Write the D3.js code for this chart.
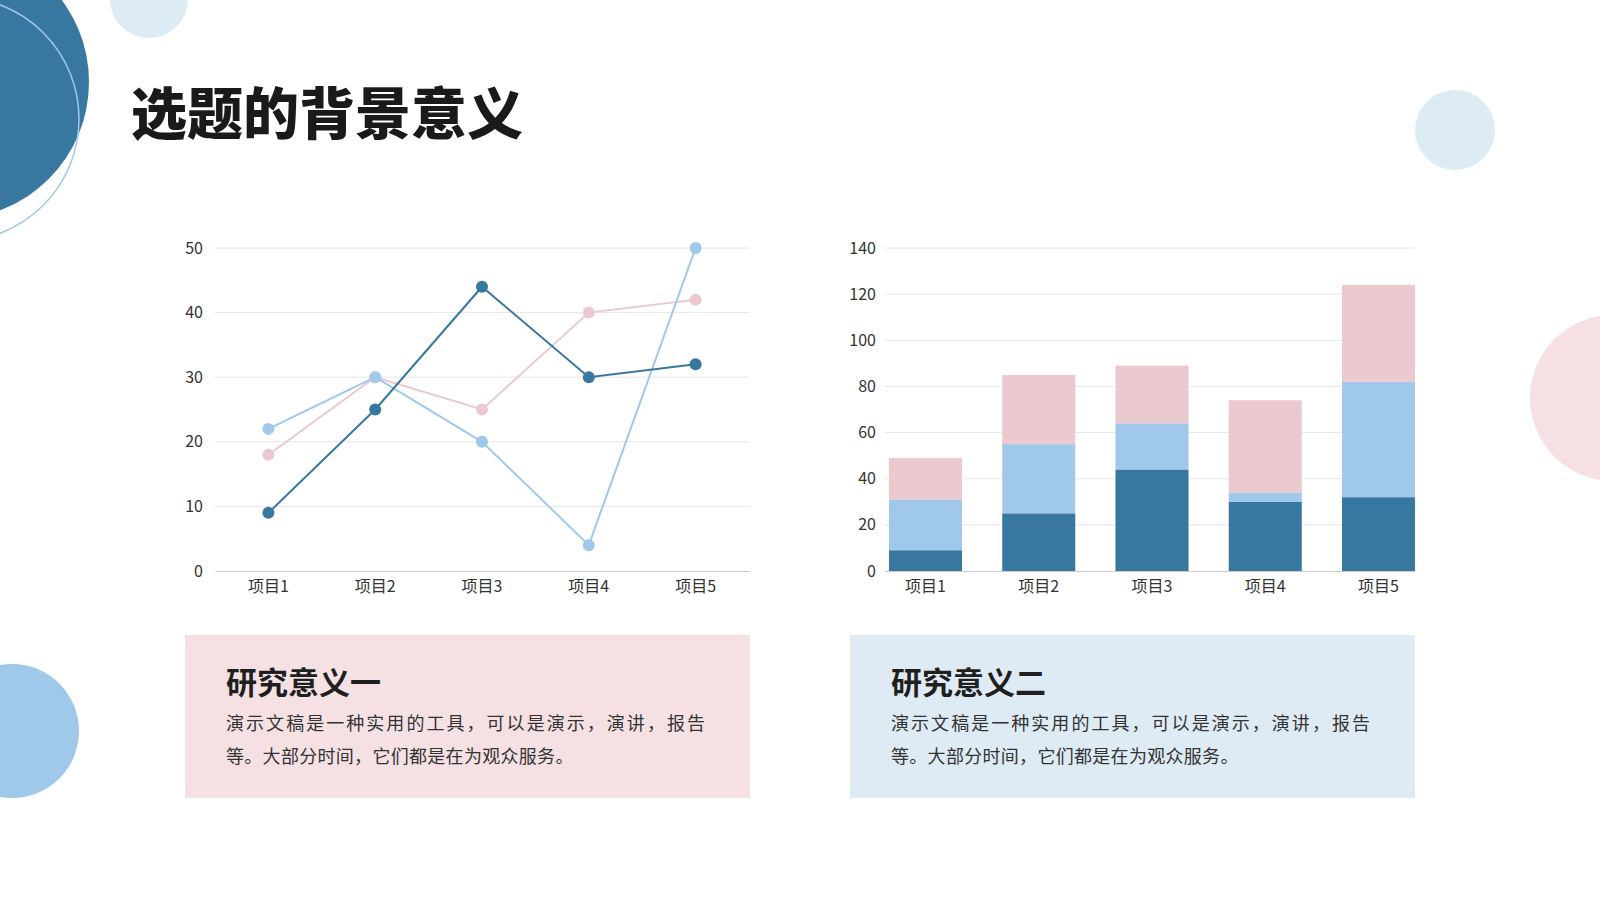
<!DOCTYPE html>
<html><head><meta charset="utf-8">
<script src="https://cdn.jsdelivr.net/npm/d3@7"></script>
<style>
html,body{margin:0;padding:0;background:#fff;}
svg{display:block;}
text{font-family:"Noto Sans CJK SC","Noto Sans",sans-serif;}
</style></head>
<body>
<svg id="c" width="1600" height="900"></svg>
<script>
const categories = ["项目1","项目2","项目3","项目4","项目5"];
const seriesA = [9, 25, 44, 30, 32];   // dark blue
const seriesB = [22, 30, 20, 4, 50];   // light blue
const seriesC = [18, 30, 25, 40, 42];  // pink
const lineTicks = [0,10,20,30,40,50];
const barTicks = [0,20,40,60,80,100,120,140];
const title = "选题的背景意义";
const cardTitles = ["研究意义一","研究意义二"];
const cardLines = ["演示文稿是一种实用的工具，可以是演示，演讲，报告","等。大部分时间，它们都是在为观众服务。"];

const colors = {A:"#3878A0", B:"#A0C8EA", C:"#EACACE"};
const svg = d3.select("#c");

// decorative circles
const deco = svg.append("g");
deco.append("circle").attr("cx",-48).attr("cy",82).attr("r",137).attr("fill","#3878A0");
deco.append("circle").attr("cx",-43).attr("cy",119).attr("r",122).attr("fill","none").attr("stroke","#A0C8EA").attr("stroke-width",1.5);
deco.append("circle").attr("cx",149).attr("cy",-1).attr("r",39).attr("fill","#DDEBF5");
deco.append("circle").attr("cx",1455).attr("cy",130).attr("r",40).attr("fill","#DDEBF5");
deco.append("circle").attr("cx",1613).attr("cy",398).attr("r",83).attr("fill","#F5E1E4");
deco.append("circle").attr("cx",12).attr("cy",731).attr("r",67).attr("fill","#A0C8EA");

// title
svg.append("text").attr("x",131).attr("y",134).attr("font-size",56).attr("font-weight",900)
  .attr("fill","#1a1a1a").text(title);

const styleTicks = g=>g.selectAll("text").attr("font-size",16).attr("fill","#333").attr("font-family","'Noto Sans CJK SC',sans-serif");

// ---------- line chart ----------
const lx = d3.scaleBand().domain(categories).range([215,749]);
const ly = d3.scaleLinear().domain([0,50]).range([571,248]);
const lg = svg.append("g");
lg.append("g").selectAll("line").data(lineTicks.filter(t=>t>0)).join("line")
  .attr("x1",215).attr("x2",749).attr("y1",d=>ly(d)).attr("y2",d=>ly(d))
  .attr("stroke","#e6e6e6").attr("stroke-width",1);
lg.append("g").attr("transform","translate(215,0)")
  .call(d3.axisLeft(ly).tickValues(lineTicks).tickSize(0).tickPadding(12))
  .call(g=>g.select(".domain").remove())
  .call(styleTicks);
lg.append("g").attr("transform","translate(0,571)")
  .call(d3.axisBottom(lx).tickSize(0).tickPadding(10))
  .call(g=>g.select(".domain").attr("stroke","#cccccc"))
  .call(styleTicks);
const lineGen = d3.line().x((d,i)=>lx(categories[i])+lx.bandwidth()/2).y(d=>ly(d));
[[seriesC,colors.C],[seriesB,colors.B],[seriesA,colors.A]].forEach(([s,c])=>{
  lg.append("path").datum(s).attr("d",lineGen).attr("fill","none").attr("stroke",c).attr("stroke-width",2);
  lg.append("g").selectAll("circle").data(s).join("circle")
    .attr("cx",(d,i)=>lx(categories[i])+lx.bandwidth()/2).attr("cy",d=>ly(d)).attr("r",6).attr("fill",c);
});

// ---------- stacked bar chart ----------
const bx = d3.scaleBand().domain(categories).range([889,1415]).paddingInner(0.355).paddingOuter(0);
const by = d3.scaleLinear().domain([0,140]).range([571,248]);
const bg = svg.append("g");
bg.append("g").selectAll("line").data(barTicks.filter(t=>t>0)).join("line")
  .attr("x1",885).attr("x2",1415).attr("y1",d=>by(d)).attr("y2",d=>by(d))
  .attr("stroke","#e6e6e6").attr("stroke-width",1);
bg.append("g").attr("transform","translate(885,0)")
  .call(d3.axisLeft(by).tickValues(barTicks).tickSize(0).tickPadding(9))
  .call(g=>g.select(".domain").remove())
  .call(styleTicks);
const table = categories.map((c,i)=>({cat:c, A:seriesA[i], B:seriesB[i], C:seriesC[i]}));
const stack = d3.stack().keys(["A","B","C"])(table);
bg.append("g").selectAll("g").data(stack).join("g").attr("fill",d=>colors[d.key])
  .selectAll("rect").data(d=>d).join("rect")
  .attr("x",d=>bx(d.data.cat)).attr("width",bx.bandwidth())
  .attr("y",d=>by(d[1])).attr("height",d=>by(d[0])-by(d[1]));
bg.append("g").attr("transform","translate(0,571)")
  .call(d3.axisBottom(bx).tickSize(0).tickPadding(10))
  .call(g=>g.select(".domain").attr("stroke","#cccccc").attr("d","M885,0.5H1415"))
  .call(styleTicks);

// ---------- cards ----------
const cards = [{x:185, fill:"#F5E1E4"},{x:850, fill:"#DEEBF5"}];
cards.forEach((c,i)=>{
  const g = svg.append("g");
  g.append("rect").attr("x",c.x).attr("y",635).attr("width",565).attr("height",163).attr("fill",c.fill);
  g.append("text").attr("x",c.x+41).attr("y",694).attr("font-size",31).attr("font-weight",700)
    .attr("fill","#1f1f1f").text(cardTitles[i]);
  g.append("text").attr("x",c.x+41).attr("y",730).attr("font-size",18)
    .attr("textLength",479).attr("lengthAdjust","spacing").attr("fill","#333").text(cardLines[0]);
  g.append("text").attr("x",c.x+41).attr("y",762.5).attr("font-size",18)
    .attr("letter-spacing",0.3).attr("fill","#333").text(cardLines[1]);
});
</script>
</body></html>
